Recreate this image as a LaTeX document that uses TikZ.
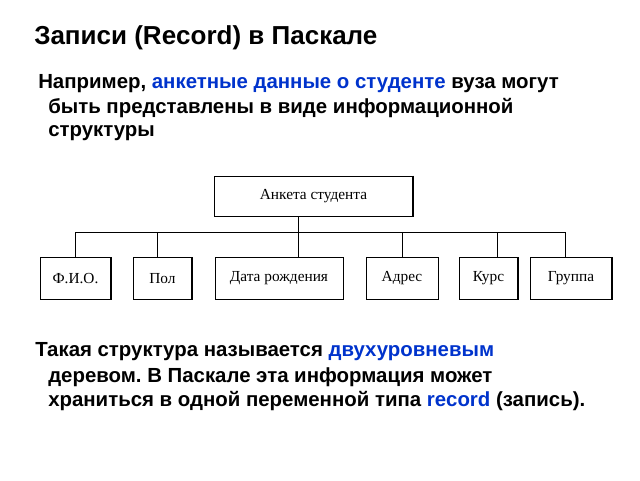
\documentclass[tikz,border=0pt]{standalone}
\usepackage{fontspec}
\setmainfont{Liberation Sans}
\newfontfamily\treefont{Liberation Serif}
\usetikzlibrary{positioning}
\frenchspacing
\definecolor{hiblue}{RGB}{0,51,204}
\tikzset{
  line/.style={text=black, font=\bfseries\fontsize{15.3pt}{17pt}\selectfont, anchor=west, inner sep=0pt},
  field/.style={draw, line width=0.6pt, inner sep=0pt, font=\treefont\fontsize{11.5pt}{13pt}\selectfont},
  shade/.style={line width=1.3pt}
}
\begin{document}
\begin{tikzpicture}[x=0.75pt, y=-0.75pt]
    \useasboundingbox (0,0) rectangle (640,480);
    % title and text
    \node[line, font=\bfseries\fontsize{19.5pt}{22pt}\selectfont] (title) at (34,38) {Записи (Record) в Паскале};
    \node[line] (p1a) at (38,84) {Например, \textcolor{hiblue}{анкетные данные о студенте} вуза могут};
    \node[line] (p1b) at (48,108) {быть представлены в виде информационной};
    \node[line] (p1c) at (48,133) {структуры};
    \node[line] (p2a) at (35,352) {Такая структура называется \textcolor{hiblue}{двухуровневым}};
    \node[line] (p2b) at (48,377) {деревом. В Паскале эта информация может};
    \node[line] (p2c) at (48,401) {храниться в одной переменной типа \textcolor{hiblue}{record} (запись).};
    % tree
    \node[field, minimum width=149pt, minimum height=30pt] (root) at (313.5,196) {Анкета студента};
    \node[field, minimum width=53pt, minimum height=31pt] (fio) at (75.5,278.5) {Ф.И.О.};
    \node[field, minimum width=44pt, minimum height=31pt] (sex) at (162.5,278.5) {Пол};
    \node[field, minimum width=96pt, minimum height=31pt] (born) at (279,278.5) {Дата рождения};
    \node[field, minimum width=54pt, minimum height=31pt] (addr) at (402,278.5) {Адрес};
    \node[field, minimum width=44pt, minimum height=31pt] (year) at (488.5,278.5) {Курс};
    \node[field, minimum width=61pt, minimum height=31pt] (group) at (571,278.5) {Группа};
    \foreach \n in {fio,sex,born,addr,year,group}
      \draw[shade] (\n.north east) -- (\n.south east) -- (\n.south west);
    \draw[shade] (root.north east) -- (root.south east) -- (root.south west);
    \coordinate (bus) at (298,232);
    \draw (root.south -| bus) -- (bus);
    \draw (75,232) -- (565,232);
    \draw (75,232) -- (fio.north -| 75,0);
    \draw (157,232) -- (sex.north -| 157,0);
    \draw (bus) -- (born.north -| bus);
    \draw (402,232) -- (addr.north);
    \draw (497,232) -- (year.north -| 497,0);
    \draw (565,232) -- (group.north -| 565,0);
\end{tikzpicture}
\end{document}
